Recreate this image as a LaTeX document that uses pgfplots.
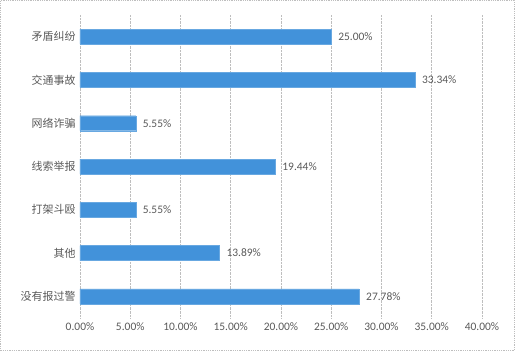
\documentclass[border=0pt]{standalone}
\usepackage{pgfplots}
\pgfplotsset{compat=1.18}
\usepackage{fontspec}
\setmainfont{Carlito}
\newfontfamily\cjk{Noto Sans CJK SC}
\definecolor{barblue}{RGB}{66,146,218}
\definecolor{txtgray}{RGB}{89,89,89}
\definecolor{gridgray}{RGB}{190,190,190}
\begin{document}
\begin{tikzpicture}
\useasboundingbox (-80bp,-33bp) rectangle (435bp,318bp);
\draw[gridgray, densely dotted, line width=0.8bp] (-79.5bp,-32.5bp) rectangle (434.5bp,317.5bp);
\begin{axis}[
  scale only axis,
  width=402bp, height=303bp,
  xbar, bar width=15bp,
  xmin=0, xmax=40,
  ymin=-0.5, ymax=6.5,
  y dir=reverse,
  xtick={0,5,...,40},
  xticklabel={\pgfmathprintnumber[fixed,fixed zerofill,precision=2]{\tick}\%},
  /pgf/number format/assume math mode=true,
  ytick={0,1,2,3,4,5,6},
  yticklabels={矛盾纠纷,交通事故,网络诈骗,线索举报,打架斗殴,其他,没有报过警},
  yticklabel style={font=\cjk\fontsize{11}{13}\selectfont, text=txtgray, xshift=-1bp},
  xticklabel style={font=\fontsize{11.5}{13}\selectfont, text=txtgray, yshift=-1bp},
  axis line style={draw=none},
  major tick length=0pt,
  xmajorgrids,
  grid style={gridgray, densely dotted, line width=0.7bp},
  nodes near coords={\pgfmathprintnumber[fixed,fixed zerofill,precision=2]{\pgfplotspointmeta}\%},
  nodes near coords style={font=\fontsize{11.5}{13}\selectfont, text=txtgray, anchor=west, xshift=3.5bp},
  point meta=explicit,
]
\addplot[fill=barblue, draw=barblue!80!white] coordinates {
  (25.00,0) [25.00]
  (33.34,1) [33.34]
  (5.55,2) [5.55]
  (19.44,3) [19.44]
  (5.55,4) [5.55]
  (13.89,5) [13.89]
  (27.78,6) [27.78]
};
\end{axis}
\end{tikzpicture}
\end{document}
